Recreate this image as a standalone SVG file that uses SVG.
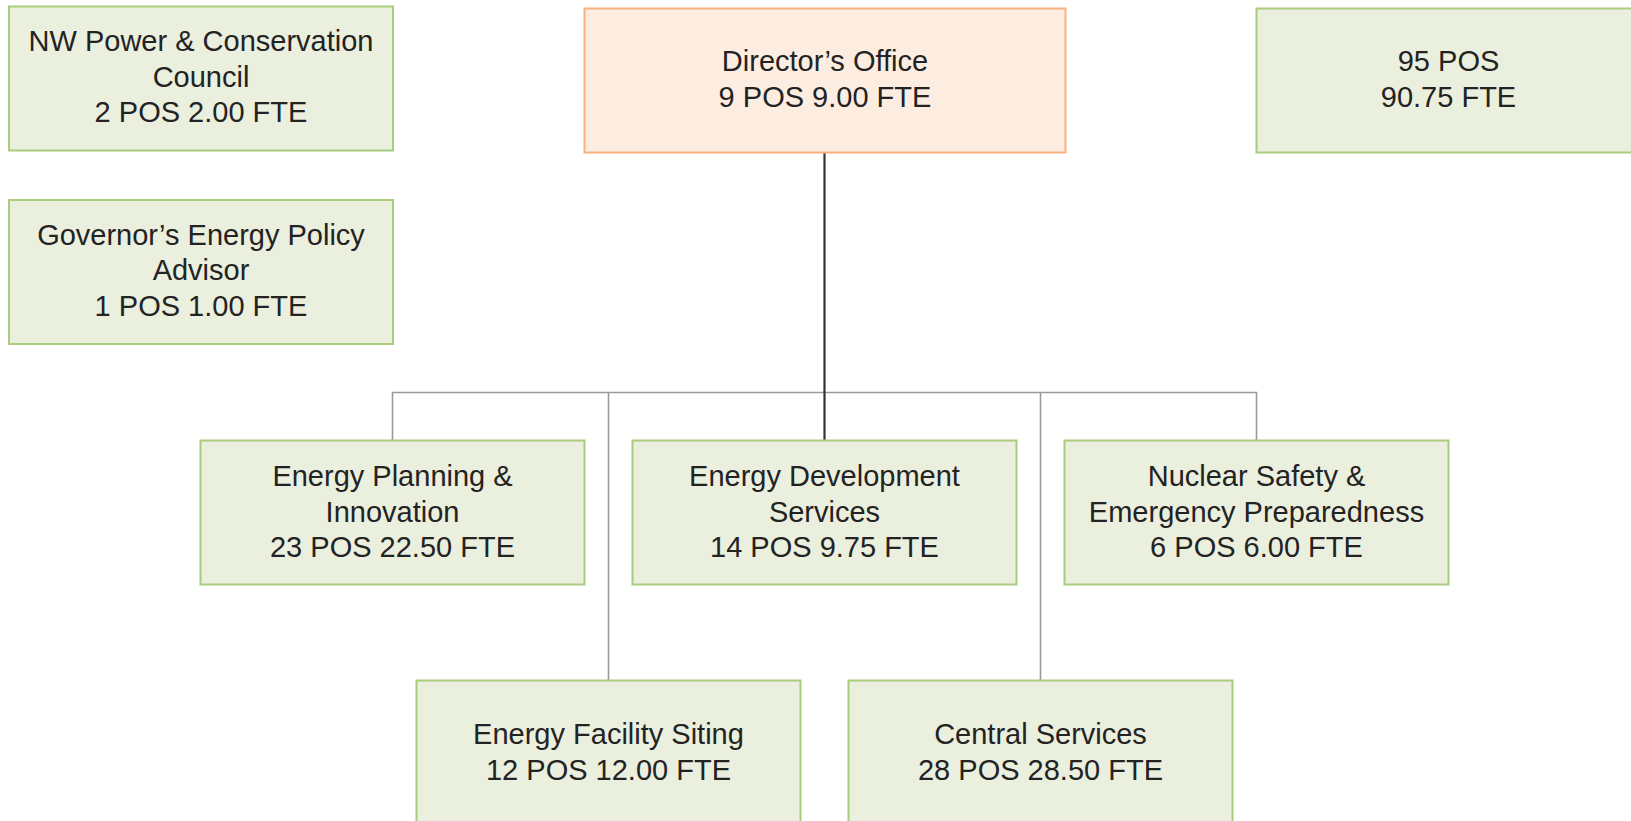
<svg xmlns="http://www.w3.org/2000/svg" width="1631" height="821" viewBox="0 0 1631 821">
  <style>
    .box { fill: #EBEFDE; stroke: #A9CD7D; stroke-width: 2; }
    .head { fill: #FDEDE1; stroke: #F7B27D; stroke-width: 2; }
    .lbl { font-family: "Liberation Sans", Arial, sans-serif; font-size: 29px; fill: #232323; text-anchor: middle; }
    .link { fill: none; stroke: #9A9A9A; stroke-width: 1.6; }
    .main { fill: none; stroke: #333333; stroke-width: 2.2; }
  </style>
  <rect width="1631" height="821" fill="#FFFFFF"/>

  <!-- connectors -->
  <g id="connectors">
    <path class="link" d="M392.5,440.5 V392.5 H1256.5 V440.5"/>
    <path class="link" d="M608.5,392.5 V680.5"/>
    <path class="link" d="M1040.5,392.5 V680.5"/>
    <path class="main" d="M824.5,152.5 V440.5"/>
  </g>

  <!-- advisory units -->
  <g id="nw-council">
    <rect class="box" x="9" y="6.5" width="384" height="144"/>
    <text class="lbl" x="201" y="51">NW Power &amp; Conservation</text>
    <text class="lbl" x="201" y="86.5">Council</text>
    <text class="lbl" x="201" y="122">2 POS 2.00 FTE</text>
  </g>
  <g id="governor-advisor">
    <rect class="box" x="9" y="200" width="384" height="144"/>
    <text class="lbl" x="201" y="244.5">Governor’s Energy Policy</text>
    <text class="lbl" x="201" y="280">Advisor</text>
    <text class="lbl" x="201" y="315.5">1 POS 1.00 FTE</text>
  </g>

  <!-- director -->
  <g id="directors-office">
    <rect class="head" x="584.5" y="8.5" width="481" height="144"/>
    <text class="lbl" x="825" y="71">Director’s Office</text>
    <text class="lbl" x="825" y="107">9 POS 9.00 FTE</text>
  </g>

  <!-- agency totals -->
  <g id="totals">
    <rect class="box" x="1256.5" y="8.5" width="384" height="144"/>
    <text class="lbl" x="1448.5" y="71">95 POS</text>
    <text class="lbl" x="1448.5" y="107">90.75 FTE</text>
  </g>

  <!-- divisions, first row -->
  <g id="energy-planning">
    <rect class="box" x="200.5" y="440.5" width="384" height="144"/>
    <text class="lbl" x="392.5" y="486">Energy Planning &amp;</text>
    <text class="lbl" x="392.5" y="521.5">Innovation</text>
    <text class="lbl" x="392.5" y="557">23 POS 22.50 FTE</text>
  </g>
  <g id="energy-development">
    <rect class="box" x="632.5" y="440.5" width="384" height="144"/>
    <text class="lbl" x="824.5" y="486">Energy Development</text>
    <text class="lbl" x="824.5" y="521.5">Services</text>
    <text class="lbl" x="824.5" y="557">14 POS 9.75 FTE</text>
  </g>
  <g id="nuclear-safety">
    <rect class="box" x="1064.5" y="440.5" width="384" height="144"/>
    <text class="lbl" x="1256.5" y="486">Nuclear Safety &amp;</text>
    <text class="lbl" x="1256.5" y="521.5">Emergency Preparedness</text>
    <text class="lbl" x="1256.5" y="557">6 POS 6.00 FTE</text>
  </g>

  <!-- divisions, second row -->
  <g id="facility-siting">
    <rect class="box" x="416.5" y="680.5" width="384" height="144"/>
    <text class="lbl" x="608.5" y="744">Energy Facility Siting</text>
    <text class="lbl" x="608.5" y="779.5">12 POS 12.00 FTE</text>
  </g>
  <g id="central-services">
    <rect class="box" x="848.5" y="680.5" width="384" height="144"/>
    <text class="lbl" x="1040.5" y="744">Central Services</text>
    <text class="lbl" x="1040.5" y="779.5">28 POS 28.50 FTE</text>
  </g>
</svg>
